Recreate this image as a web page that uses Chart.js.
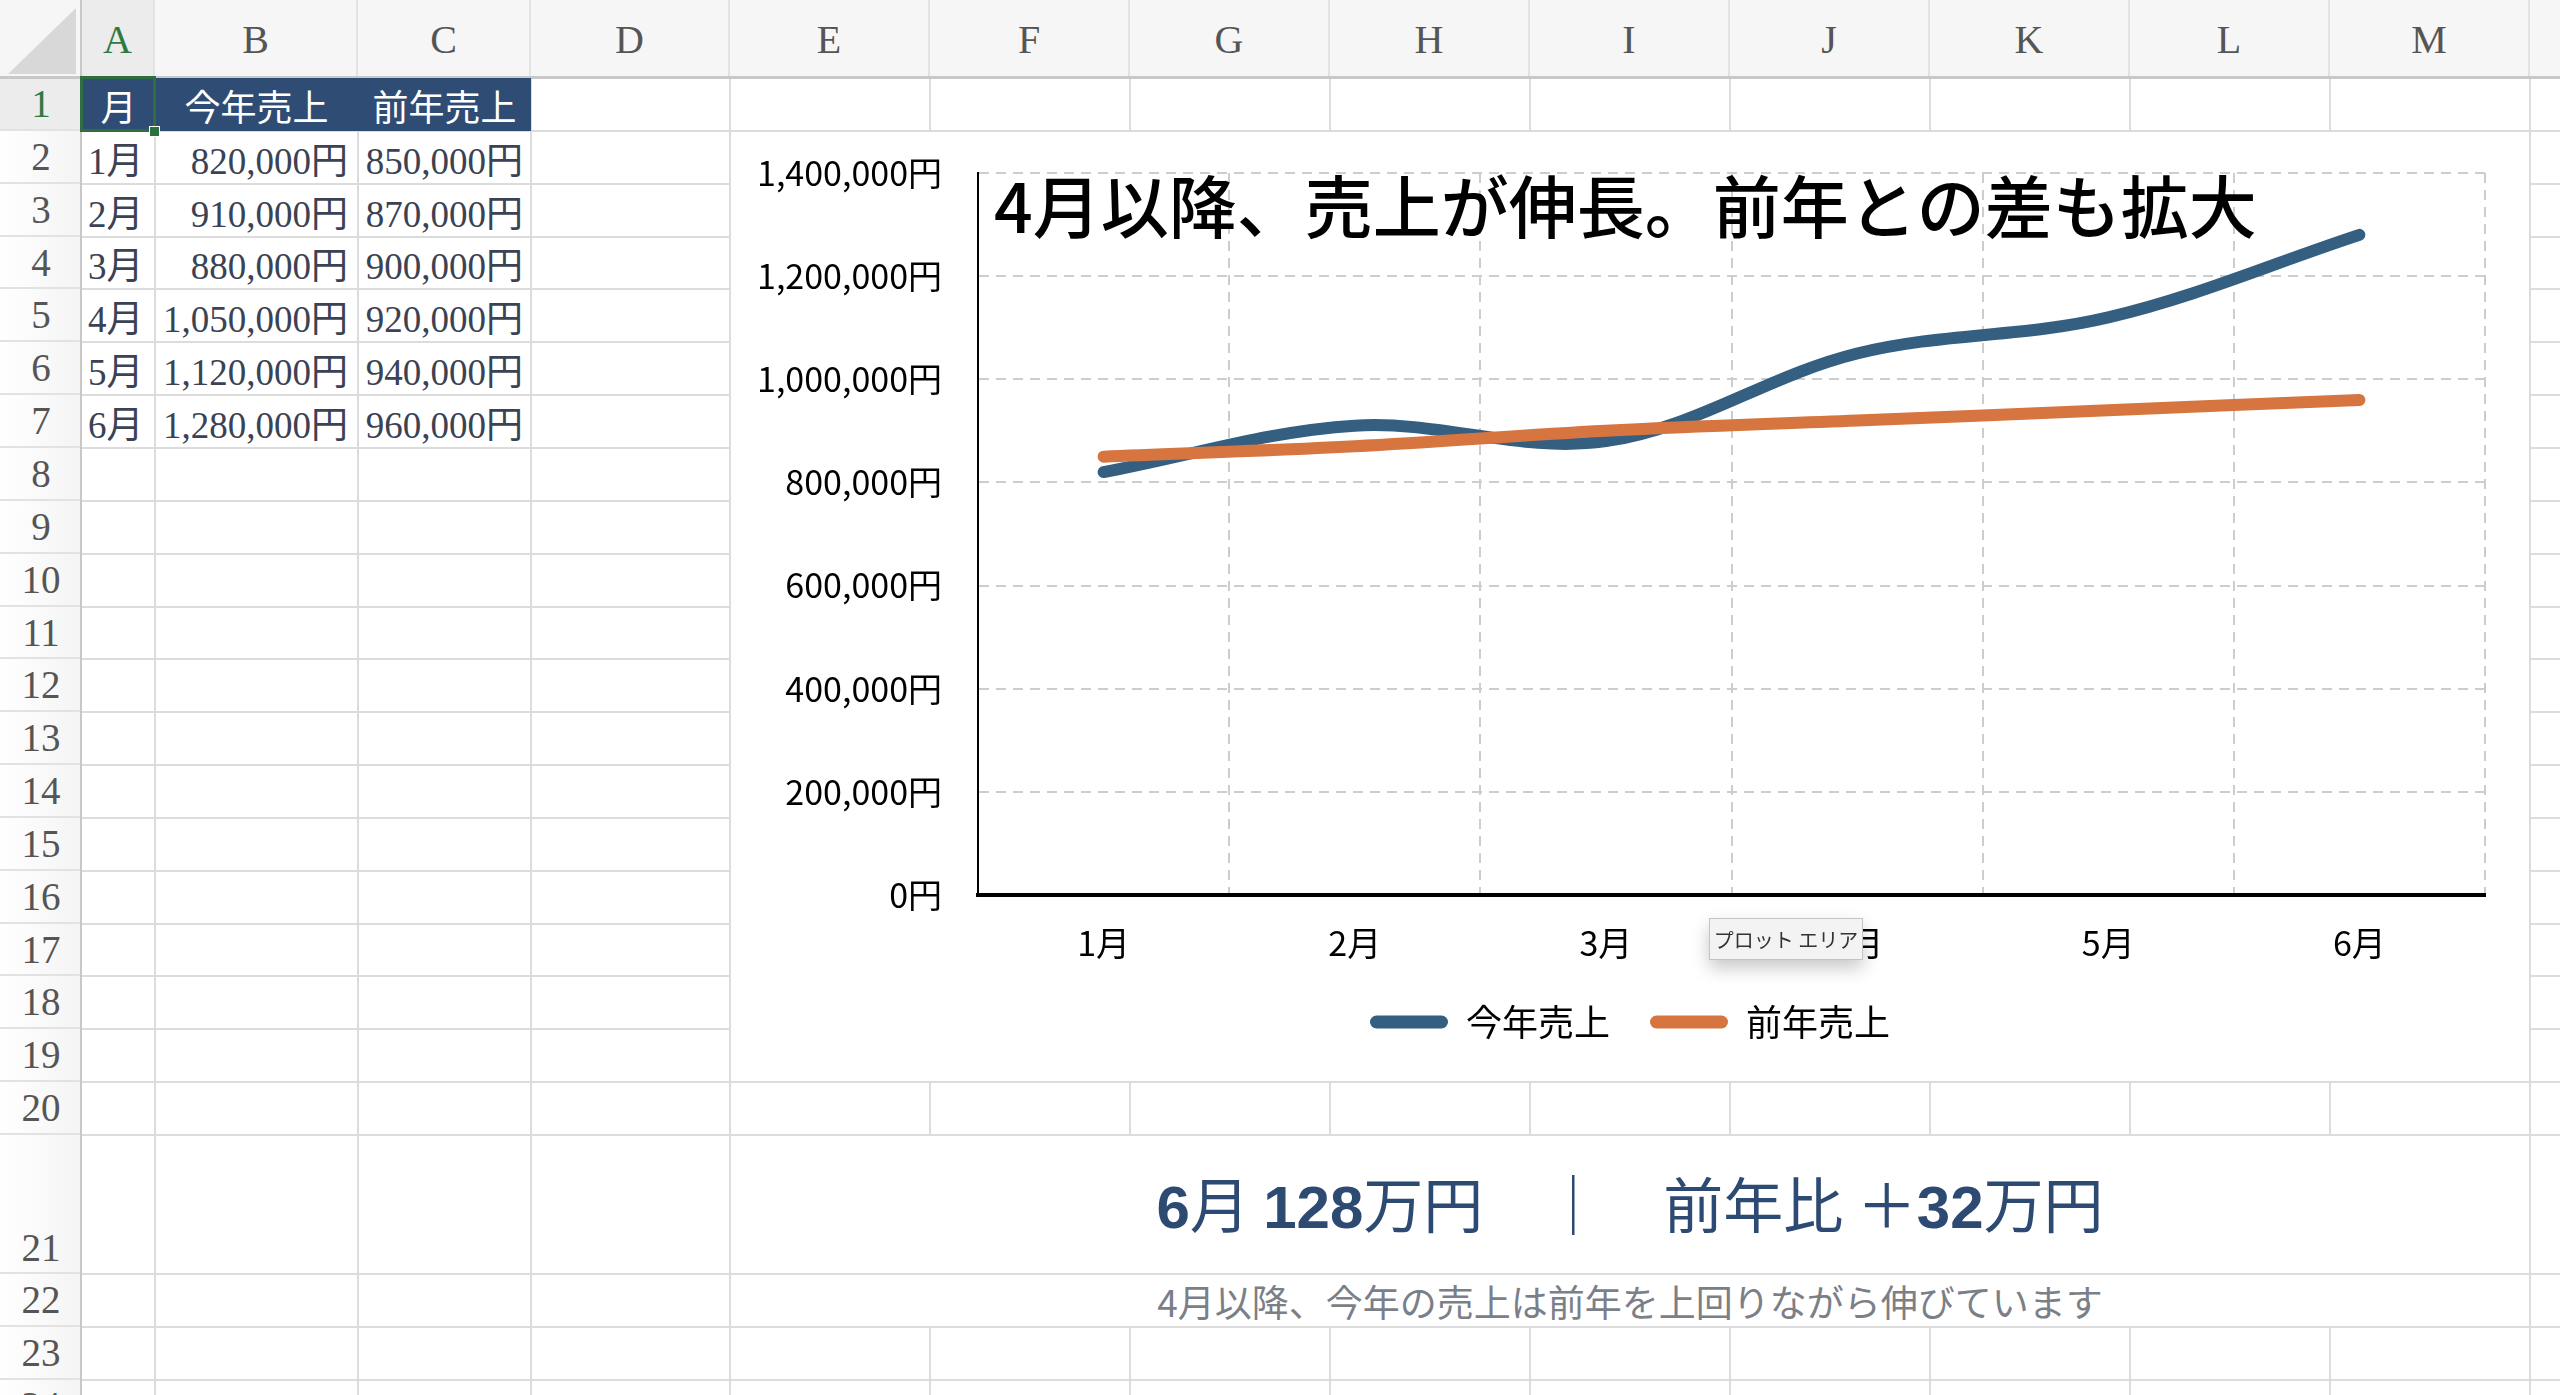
<!DOCTYPE html>
<html><head><meta charset="utf-8">
<script src="https://cdn.jsdelivr.net/npm/chart.js@4.4.1/dist/chart.umd.min.js"></script>
<style>
html,body{margin:0;padding:0;background:#fff;}
body{width:2560px;height:1395px;overflow:hidden;position:relative;font-family:"Liberation Serif","Noto Sans CJK JP",serif;}
.abs{position:absolute;box-sizing:border-box;}
.cell{display:flex;align-items:center;white-space:nowrap;}
#chartBox{position:absolute;left:730px;top:131px;width:1800px;height:951px;background:#fff;outline:2px solid #dcdcdc;outline-offset:-1px;}
#tip{position:absolute;left:1709px;top:918px;width:152px;height:40px;background:#f3f3f3;border:1px solid #c4c4c4;box-shadow:0 8px 18px rgba(0,0,0,0.22);font-family:"Noto Sans CJK JP",sans-serif;font-size:20px;color:#333;display:flex;align-items:center;justify-content:center;white-space:nowrap;}
</style></head><body>
<div id="sheet"></div>
<div id="chartBox"><canvas id="c"></canvas></div>
<div id="tip">プロット エリア</div>
<script>
// ---- data ----
const months = ['1月','2月','3月','4月','5月','6月'];
const salesThisYear = [820000, 910000, 880000, 1050000, 1120000, 1280000];
const salesLastYear = [850000, 870000, 900000, 920000, 940000, 960000];
const seriesNames = ['今年売上','前年売上'];
const headerLabels = ['月','今年売上','前年売上'];
const yMin = 0, yMax = 1400000, yStep = 200000;
const chartTitle = '4月以降、売上が伸長。前年との差も拡大';
const noteText = '4月以降、今年の売上は前年を上回りながら伸びています';

const BLUE = '#345f80', ORANGE = '#d67540';
const FONT = '"Noto Sans CJK JP","Noto Sans",sans-serif';
const fmt = v => String(v).replace(/\B(?=(\d{3})+(?!\d))/g, ',') + '円';

// ---- spreadsheet backdrop ----
const sheet = document.getElementById('sheet');
function box(x, y, w, h, css, text) {
  const d = document.createElement('div');
  d.className = 'abs';
  d.style.left = x + 'px'; d.style.top = y + 'px';
  d.style.width = w + 'px'; d.style.height = h + 'px';
  if (css) d.style.cssText += css;
  if (text !== undefined) d.textContent = text;
  sheet.appendChild(d);
  return d;
}
const colEdges = [82,155,358,531,730,930,1130,1330,1530,1730,1930,2130,2330,2530,2730];
const colNames = ['A','B','C','D','E','F','G','H','I','J','K','L','M','N'];
const rowTops = [];
for (let n = 1; n <= 21; n++) rowTops.push(Math.round(78 + (n - 1) * 52.85));
rowTops.push(1274, 1327, 1380, 1433);

// gridlines
for (let i = 1; i < colEdges.length; i++) box(colEdges[i] - 1, 78, 2, 1395 - 78, 'background:#dcdcdc;');
for (let i = 1; i < rowTops.length; i++) box(82, rowTops[i] - 1, 2560 - 82, 2, 'background:#dcdcdc;');

// column headers
for (let i = 0; i < colNames.length; i++) {
  const sel = i === 0;
  box(colEdges[i], 0, colEdges[i + 1] - colEdges[i], 78,
    'background:' + (sel ? '#ececec' : '#f6f6f6') + ';border-right:2px solid #e3e3e3;display:flex;align-items:center;justify-content:center;font-family:"Liberation Serif",serif;font-size:40px;color:' + (sel ? '#2f7a44' : '#555') + ';', colNames[i]);
}
box(0, 0, 82, 78, 'background:#f6f6f6;');
box(8, 8, 68, 66, 'background:#d8d8d8;clip-path:polygon(100% 0,100% 100%,0 100%);');
for (let n = 1; n <= 24; n++) {
  const top = rowTops[n - 1], h = rowTops[n] - top;
  const sel = n === 1;
  box(0, top, 82, h, 'background:' + (sel ? '#ececec' : 'linear-gradient(to right,#ffffff,#f4f4f4)') + ';border-bottom:2px solid #e2e2e2;display:flex;justify-content:center;align-items:' + (n === 21 ? 'flex-end' : 'center') + ';padding-bottom:' + (n === 21 ? '2px' : '0') + ';font-family:"Liberation Serif",serif;font-size:39px;color:' + (sel ? '#2f7a44' : '#555') + ';', String(n));
}
box(0, 76, 2560, 3, 'background:#c8c8c8;');
box(80, 0, 2, 1395, 'background:#c8c8c8;');

// header row of data table
const hTop = rowTops[0], hH = rowTops[1] - rowTops[0];
box(colEdges[0], hTop, colEdges[3] - colEdges[0], hH, 'background:#2f4c75;');
for (let c = 0; c < 3; c++) {
  box(colEdges[c], hTop, colEdges[c + 1] - colEdges[c], hH,
    'justify-content:center;color:#fff;font-family:"Noto Sans CJK JP",sans-serif;font-size:36px;', headerLabels[c]).classList.add('cell');
}
for (let r = 0; r < months.length; r++) {
  const top = rowTops[r + 1], h = rowTops[r + 2] - top;
  const base = 'color:#3a4254;font-size:37px;font-family:"Liberation Serif","Noto Sans CJK JP",serif;';
  box(colEdges[0], top, colEdges[1] - colEdges[0], h, base + 'justify-content:flex-start;padding-left:6px;', months[r]).classList.add('cell');
  box(colEdges[1], top, colEdges[2] - colEdges[1], h, base + 'justify-content:flex-end;padding-right:10px;', fmt(salesThisYear[r])).classList.add('cell');
  box(colEdges[2], top, colEdges[3] - colEdges[2], h, base + 'justify-content:flex-end;padding-right:8px;', fmt(salesLastYear[r])).classList.add('cell');
}
box(colEdges[0] - 2, hTop - 2, colEdges[1] - colEdges[0] + 3, hH + 3, 'border:3px solid #2f6e40;');
box(colEdges[1] - 6, rowTops[1] - 5, 11, 11, 'background:#2f6e40;border:1px solid #fff;');

// merged summary cells E21:M21 and E22:M22
const mL = colEdges[4] + 1, mW = colEdges[13] - colEdges[4] - 2;
const last = months.length - 1;
const man = v => Math.round(v / 10000);
const diff = man(salesThisYear[last]) - man(salesLastYear[last]);
const s1 = box(mL, rowTops[20] + 1, mW, rowTops[21] - rowTops[20] - 2, 'background:#fff;justify-content:center;color:#2d4a72;font-size:60px;font-family:"Noto Sans CJK JP",sans-serif;padding-bottom:6px;');
s1.classList.add('cell');
const B = t => '<b style="font-family:\'Liberation Sans\',Arial,sans-serif;font-weight:700;">' + t + '</b>';
s1.innerHTML = '<span style="white-space:pre;">' + B(parseInt(months[last])) + '月 ' + B(man(salesThisYear[last])) + '万円　｜　前年比 ＋' + B(diff) + '万円</span>';
const s2 = box(mL, rowTops[21] + 1, mW, rowTops[22] - rowTops[21] - 2, 'background:#fff;justify-content:center;color:#7b7f88;font-size:37px;font-family:"Noto Sans CJK JP",sans-serif;', noteText);
s2.classList.add('cell');

// ---- chart ----
const titlePlugin = {
  id: 'inTitle',
  afterDraw(chart) {
    const {ctx, chartArea} = chart;
    ctx.save();
    ctx.font = '500 68px ' + FONT;
    ctx.fillStyle = '#000';
    ctx.textBaseline = 'middle';
    ctx.textAlign = 'left';
    ctx.fillText(chartTitle, chartArea.left + 16, chartArea.top + 34);
    ctx.restore();
  }
};

new Chart(document.getElementById('c'), {
  type: 'line',
  data: {
    labels: months,
    datasets: [
      {label: seriesNames[0], data: salesThisYear, borderColor: BLUE, backgroundColor: BLUE,
       borderWidth: 12, tension: 0.35, pointRadius: 0, pointHoverRadius: 0,
       borderCapStyle: 'round', borderJoinStyle: 'round', fill: false, order: 2},
      {label: seriesNames[1], data: salesLastYear, borderColor: ORANGE, backgroundColor: ORANGE,
       borderWidth: 12, tension: 0.35, pointRadius: 0, pointHoverRadius: 0,
       borderCapStyle: 'round', borderJoinStyle: 'round', fill: false, order: 1}
    ]
  },
  options: {
    responsive: true, maintainAspectRatio: false, animation: false,
    layout: {padding: {left: 0, right: 0, top: 42, bottom: 32}},
    scales: {
      x: {
        offset: true,
        grid: {offset: true, color: '#cdcdcd', lineWidth: 2, drawTicks: false},
        border: {display: true, color: '#000', width: 4, dash: [10, 7], z: 1},
        ticks: {font: {family: FONT, size: 34}, color: '#000', padding: 28, maxRotation: 0},
        afterFit(s) { s.height = 69; s.paddingLeft = 0; s.paddingRight = 0; }
      },
      y: {
        min: yMin, max: yMax,
        ticks: {stepSize: yStep, callback: v => fmt(v), font: {family: FONT, size: 34}, color: '#000', padding: 36},
        grid: {color: '#cdcdcd', lineWidth: 2, drawTicks: false},
        border: {display: true, color: '#000', width: 2, dash: [10, 7], z: 1},
        afterFit(s) { s.width = 248; s.paddingTop = 0; s.paddingBottom = 0; }
      },
      gap: {
        position: 'right', display: true,
        ticks: {display: false}, grid: {display: false}, border: {display: false},
        afterFit(s) { s.width = 45; s.paddingTop = 0; s.paddingBottom = 0; }
      }
    },
    plugins: {
      tooltip: {enabled: false},
      title: {display: false},
      legend: {
        position: 'bottom',
        labels: {
          boxWidth: 78, boxHeight: 13, padding: 40,
          font: {family: FONT, size: 36}, color: '#000',
          generateLabels: chart => chart.data.datasets.map((ds, i) => ({
            text: ds.label, fillStyle: ds.borderColor, strokeStyle: ds.borderColor,
            lineWidth: 0, borderRadius: 6.5, datasetIndex: i, hidden: false, fontColor: '#000'
          }))
        }
      }
    }
  },
  plugins: [titlePlugin]
});
</script>
</body></html>
